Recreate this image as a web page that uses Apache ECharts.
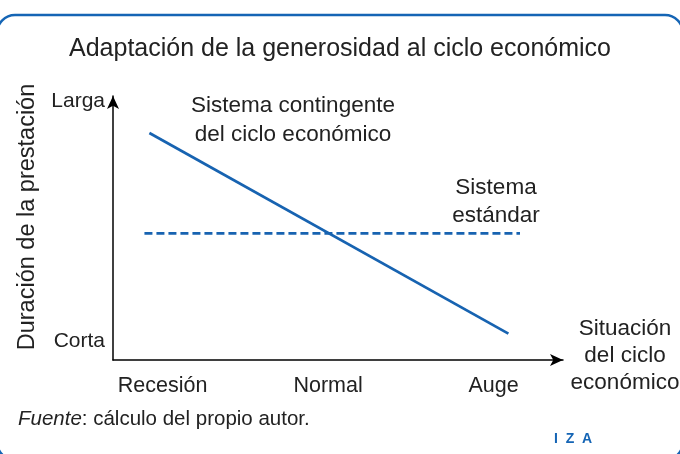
<!DOCTYPE html>
<html><head><meta charset="utf-8">
<script src="https://cdn.jsdelivr.net/npm/echarts@6/dist/echarts.min.js"></script>
<style>html,body{margin:0;padding:0;background:#fff}#c{width:680px;height:454px}</style>
</head><body><div id="c"></div>
<script>
// Data
const categories = ['Recesión', 'Normal', 'Auge'];
const categoryPositions = [0, 1, 2];
const levelLabels = ['Corta', 'Larga'];
const levelValues = [7, 98];
const contingentX = [-0.08, 2.09];
const contingentY = [86, 10];
const standardX = [-0.11, 2.16];
const standardY = [48, 48];

const FONT = '"Liberation Sans", Arial, sans-serif';
const TXT = '#222';
const BLUE = '#1763b1';

const chart = echarts.init(document.getElementById('c'));
chart.setOption({
  animation: false,
  textStyle: { fontFamily: FONT },
  title: {
    text: 'Adaptación de la generosidad al ciclo económico',
    left: 'center', top: 32,
    textStyle: { fontFamily: FONT, fontSize: 25, fontWeight: 'normal', color: TXT }
  },
  grid: { left: 113, right: 117, top: 96, bottom: 94 },
  xAxis: {
    type: 'value', min: -0.3, max: 2.42,
    splitLine: { show: false },
    axisLine: { show: true, onZero: false, lineStyle: { color: '#000', width: 1.5 }, symbol: ['none', 'arrow'], symbolSize: [9, 13] },
    axisTick: { show: false },
    axisLabel: {
      customValues: categoryPositions, margin: 15,
      formatter: v => categories[categoryPositions.indexOf(v)] || '',
      fontFamily: FONT, fontSize: 21.5, color: TXT
    }
  },
  yAxis: {
    type: 'value', min: 0, max: 100,
    splitLine: { show: false },
    axisLine: { show: true, onZero: false, lineStyle: { color: '#000', width: 1.5 }, symbol: ['none', 'arrow'], symbolSize: [9, 13] },
    axisTick: { show: false },
    axisLabel: {
      customValues: levelValues, margin: 8,
      formatter: v => levelLabels[levelValues.indexOf(v)] || '',
      fontFamily: FONT, fontSize: 21, color: TXT
    }
  },
  series: [
    {
      type: 'line', symbol: 'none', silent: true,
      data: contingentX.map((x, i) => [x, contingentY[i]]),
      lineStyle: { color: BLUE, width: 2.7 }
    },
    {
      type: 'line', symbol: 'none', silent: true,
      data: standardX.map((x, i) => [x, standardY[i]]),
      lineStyle: { color: BLUE, width: 2.7, type: [8, 4] }
    }
  ],
  graphic: [
    { type: 'rect', shape: { x: -3, y: 15, width: 686, height: 445, r: 18 },
      style: { fill: 'none', stroke: '#1565b5', lineWidth: 2.5 }, z: -1 },
    { type: 'text', x: 293, y: 91,
      style: { text: 'Sistema contingente\ndel ciclo económico', fontFamily: FONT, fontSize: 22.5, fill: TXT, align: 'center', verticalAlign: 'top', lineHeight: 29 } },
    { type: 'text', x: 496, y: 174,
      style: { text: 'Sistema\nestándar', fontFamily: FONT, fontSize: 22.5, fill: TXT, align: 'center', verticalAlign: 'top', lineHeight: 28 } },
    { type: 'text', x: 625, y: 315,
      style: { text: 'Situación\ndel ciclo\neconómico', fontFamily: FONT, fontSize: 22.5, fill: TXT, align: 'center', verticalAlign: 'top', lineHeight: 27 } },
    { type: 'text', x: 28, y: 217, rotation: Math.PI / 2,
      style: { text: 'Duración de la prestación', fontFamily: FONT, fontSize: 23.5, fill: TXT, align: 'center', verticalAlign: 'middle' } },
    { type: 'text', left: 18, top: 409,
      style: { rich: { i: { fontStyle: 'italic', fontFamily: FONT, fontSize: 20.5, fill: TXT }, n: { fontFamily: FONT, fontSize: 20.5, fill: TXT } },
        text: '{i|Fuente}{n|: cálculo del propio autor.}', fontFamily: FONT, fontSize: 20.5, fill: TXT } },
    { type: 'text', left: 554, top: 432,
      style: { text: 'I  Z  A', fontFamily: 'Liberation Sans, Arial, sans-serif', fontSize: 14, fontWeight: 'bold', fill: '#1565b5' } }
  ]
});
</script></body></html>
